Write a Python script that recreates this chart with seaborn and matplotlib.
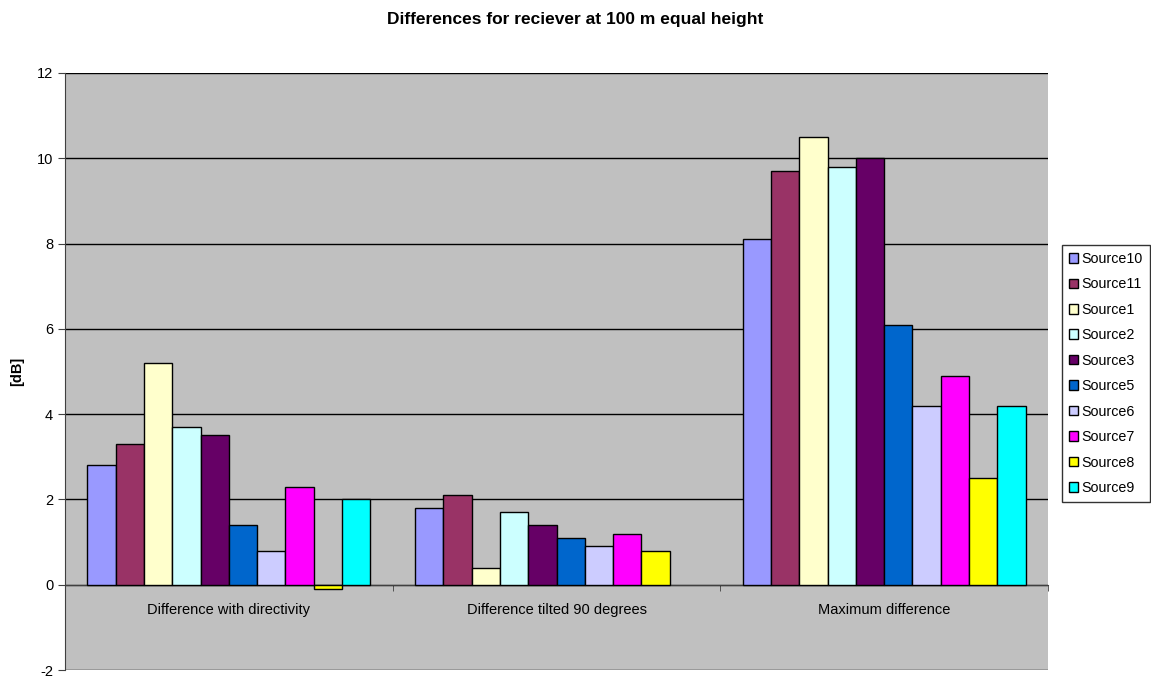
import pandas as pd
import numpy as np
import seaborn as sns
import matplotlib.pyplot as plt
from matplotlib.patches import Patch

# Valores
categorias = ['Difference with directivity', 'Difference tilted 90 degrees', 'Maximum difference']
fuentes = ['Source10', 'Source11', 'Source1', 'Source2', 'Source3',
           'Source5', 'Source6', 'Source7', 'Source8', 'Source9']
dif_directividad = [2.8, 3.3, 5.2, 3.7, 3.5, 1.4, 0.8, 2.3, -0.1, 2.0]
dif_inclinada = [1.8, 2.1, 0.4, 1.7, 1.4, 1.1, 0.9, 1.2, 0.8, np.nan]
dif_maxima = [8.1, 9.7, 10.5, 9.8, 10.0, 6.1, 4.2, 4.9, 2.5, 4.2]
colores = ['#9999FF', '#993366', '#FFFFCC', '#CCFFFF', '#660066',
           '#0066CC', '#CCCCFF', '#FF00FF', '#FFFF00', '#00FFFF']

filas = []
for cat, vals in zip(categorias, [dif_directividad, dif_inclinada, dif_maxima]):
    for f, v in zip(fuentes, vals):
        filas.append({'Categoria': cat, 'Fuente': f, 'dB': v})
df = pd.DataFrame(filas)

plt.rcParams['font.family'] = ['Liberation Sans', 'DejaVu Sans']
plt.rcParams['axes.unicode_minus'] = False

fig = plt.figure(figsize=(11.51, 6.8), dpi=100)
ax = fig.add_axes([0.0565, 0.0147, 0.854, 0.878])
ax.set_facecolor('#C0C0C0')

sns.barplot(data=df, x='Categoria', y='dB', hue='Fuente', order=categorias,
            hue_order=fuentes, palette=colores, saturation=1, width=0.863,
            edgecolor='black', linewidth=1, ax=ax, legend=False, zorder=3)

ax.set_ylim(-2, 12)
ax.set_xlim(-0.5, 2.5)
ax.set_yticks(range(-2, 13, 2))
ax.yaxis.grid(True, color='black', linewidth=1)
ax.set_axisbelow(True)

# eje x cruzando en cero
ax.spines['bottom'].set_position(('data', 0))
ax.spines['bottom'].set_color('#404040')
ax.spines['left'].set_color('#404040')
ax.spines['top'].set_visible(False)
ax.spines['right'].set_visible(False)
ax.set_xticks([0, 1, 2])
ax.set_xticklabels(categorias, fontsize=10.5)
ax.set_xticks([-0.5, 0.5, 1.5, 2.5], minor=True)
ax.tick_params(axis='x', which='major', length=0, pad=13)
ax.tick_params(axis='x', which='minor', length=4, direction='out', color='#404040')
ax.tick_params(axis='y', length=5, direction='out', labelsize=10.5, color='#404040')
ax.set_xlabel('')
ax.set_ylabel('[dB]', fontsize=10.5, fontweight='bold', labelpad=9)

fig.suptitle('Differences for reciever at 100 m equal height', y=0.982,
             fontsize=12.5, fontweight='bold')

handles = [Patch(facecolor=c, edgecolor='black', label=f) for c, f in zip(colores, fuentes)]
leg = fig.legend(handles=handles, loc='upper left', bbox_to_anchor=(0.9225, 0.64),
                 frameon=True, fancybox=False, edgecolor='black', fontsize=10.3,
                 handlelength=0.65, handleheight=0.65, handletextpad=0.2,
                 labelspacing=0.8, borderpad=0.5, borderaxespad=0)
leg.get_frame().set_linewidth(1)

fig.savefig('out.png', dpi=100, facecolor='white')
